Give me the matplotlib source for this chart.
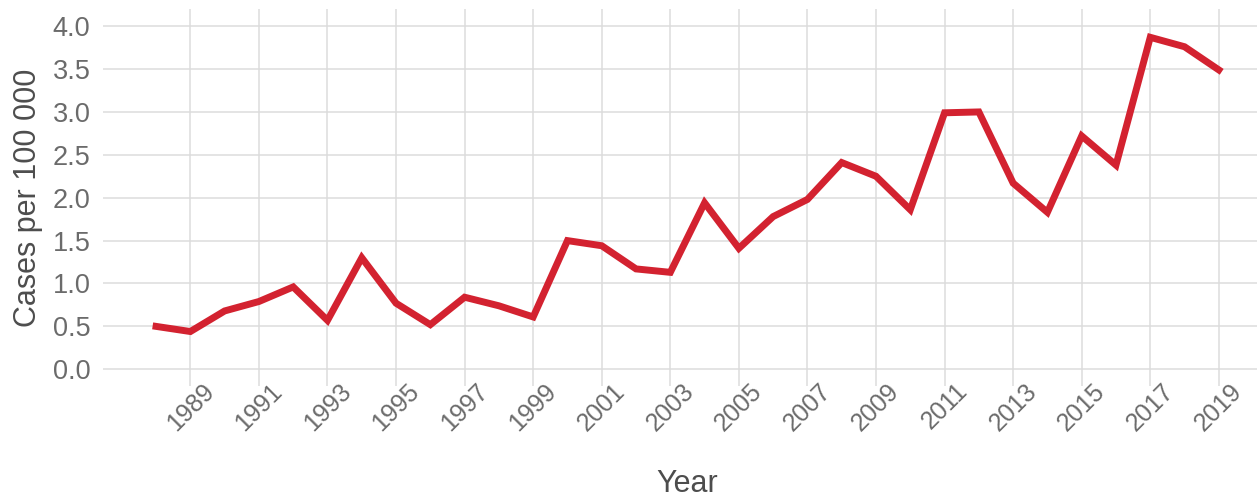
import numpy as np
import matplotlib
matplotlib.use("Agg")
import matplotlib.pyplot as plt

plt.rcParams['font.family'] = ['Liberation Sans Narrow', 'Liberation Sans', 'DejaVu Sans']

# incidence per year
years = list(range(1988, 2020))
cases = [0.50, 0.44, 0.68, 0.79, 0.96, 0.57, 1.30, 0.77,
         0.52, 0.84, 0.74, 0.61, 1.50, 1.44, 1.17, 1.13,
         1.94, 1.41, 1.78, 1.98, 2.41, 2.25, 1.86, 2.99,
         3.00, 2.17, 1.83, 2.72, 2.38, 3.87, 3.76, 3.49]
xticks = list(range(1989, 2020, 2))
yticks = [0.0, 0.5, 1.0, 1.5, 2.0, 2.5, 3.0, 3.5, 4.0]

fig = plt.figure(figsize=(12.57, 5.0), dpi=100)
ax = fig.add_axes([0.0819, 0.228, 0.930, 0.754])

ax.plot(years, cases, color='#d32230', lw=5, solid_joinstyle='miter', zorder=3)

ax.set_xlim(1986.45, 2020.55)
ax.set_ylim(-0.195, 4.2)
ax.set_xticks(xticks)
ax.set_xticklabels([str(y) for y in xticks], rotation=45)
ax.set_yticks(yticks)
ax.set_yticklabels([f"{v:.1f}" for v in yticks])

ax.grid(True, color='#dcdcdc', lw=1.1)
ax.set_axisbelow(True)
for s in ax.spines.values():
    s.set_visible(False)
ax.tick_params(axis='both', length=0, labelcolor='#6b6b6b')
ax.tick_params(axis='y', pad=9, labelsize=19.5)
ax.tick_params(axis='x', pad=-5, labelsize=18)

ax.set_ylabel("Cases per 100 000", fontsize=22, color='#4d4d4d')
ax.set_xlabel("Year", fontsize=22, color='#4d4d4d')
ax.yaxis.set_label_coords(-0.051, 0.5)
ax.xaxis.set_label_coords(0.5, -0.22)

fig.savefig("out.png", dpi=100)
